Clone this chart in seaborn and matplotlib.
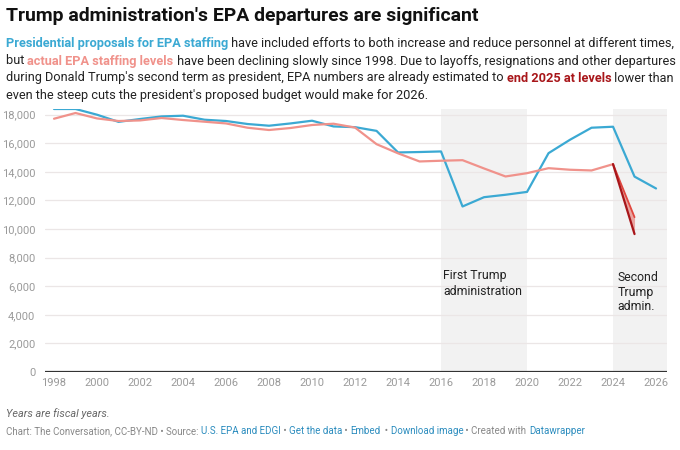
import numpy as np
import pandas as pd
import matplotlib
matplotlib.use("Agg")
import matplotlib.pyplot as plt
import seaborn as sns

# Data
years = list(range(1998, 2027))
proposed = [18400, 18400, 18000, 17500, 17700, 17880, 17930, 17650, 17560, 17350,
            17230, 17390, 17580, 17180, 17130, 16870, 15360, 15390, 15430, 11580,
            12230, 12400, 12600, 15310, 16250, 17090, 17160, 13670, 12840]
actual_years = list(range(1998, 2025))
actual = [17720, 18120, 17740, 17560, 17600, 17770, 17630, 17510, 17390, 17090,
          16930, 17070, 17280, 17370, 17100, 15940, 15300, 14730, 14780, 14820,
          14240, 13680, 13910, 14260, 14150, 14100, 14540]
est_years = [2024, 2025]
est_high = [14540, 10830]
est_low = [14540, 9650]
yticks = list(range(0, 18001, 2000))
xticks = list(range(1998, 2027, 2))

BLUE = "#3ba9d3"
SALMON = "#f0928b"
RED = "#e0473f"
DARKRED = "#a8161a"
TEXT = "#222222"
GREY = "#9a9a9a"

sns.set_theme(style="white")
plt.rcParams['font.family'] = ['Roboto', 'DejaVu Sans']

fig = plt.figure(figsize=(6.8, 4.5), dpi=100)
W, H = 680, 450
ax = fig.add_axes([45 / W, 1 - 372 / H, 622 / W, 263 / H])

# shaded administrations
ax.axvspan(2016, 2020, color="#f2f2f2", lw=0, zorder=0)
ax.axvspan(2024, 2026.51, color="#f2f2f2", lw=0, zorder=0)

for v in yticks[1:]:
    ax.axhline(v, color="#ebe6e6", lw=0.9, zorder=1)
ax.axhline(0, color="#333333", lw=1.6, zorder=3)

df_p = pd.DataFrame({"year": years, "value": proposed})
df_a = pd.DataFrame({"year": actual_years, "value": actual})
sns.lineplot(data=df_p, x="year", y="value", color=BLUE, lw=1.6, ax=ax, zorder=4)
sns.lineplot(data=df_a, x="year", y="value", color=SALMON, lw=1.6, ax=ax, zorder=4)
ax.fill_between(est_years, est_low, est_high, color=RED, alpha=0.45, lw=0, zorder=4)
sns.lineplot(x=est_years, y=est_high, color=RED, lw=1.3, ax=ax, zorder=5)
sns.lineplot(x=est_years, y=est_low, color=DARKRED, lw=1.6, ax=ax, zorder=5)

ax.set_xlim(1997.58, 2026.51)
ax.set_ylim(0, 18400)
ax.set_xticks(xticks)
ax.set_yticks(yticks)
ax.set_xticklabels([str(x) for x in xticks], color=GREY, fontsize=8)
ax.set_yticklabels([f"{v:,}" for v in yticks], color=GREY, fontsize=8)
ax.tick_params(axis="both", length=0, pad=4)
ax.tick_params(axis="y", pad=7)
ax.set_xlabel("")
ax.set_ylabel("")
for s in ax.spines.values():
    s.set_visible(False)

ax.text(2016.1, 7200, "First Trump\nadministration", fontsize=8.8, color=TEXT,
        va="top", ha="left", linespacing=1.25, zorder=6)
ax.text(2024.2, 7050, "Second\nTrump\nadmin.", fontsize=8.8, color=TEXT,
        va="top", ha="left", linespacing=1.15, zorder=6)

# title and subtitle
fig.text(6 / W, 1 - 16 / H, "Trump administration's EPA departures are significant",
         fontsize=13.95, fontweight="bold", color="#111111", va="center", ha="left")

renderer = fig.canvas.get_renderer()


def rich_line(y_px, parts, size=9.15):
    x = 6 / W
    for txt, color, weight in parts:
        t = fig.text(x, 1 - y_px / H, txt, color=color, fontweight=weight,
                     fontsize=size, va="center", ha="left")
        bb = t.get_window_extent(renderer)
        x += bb.width / W


n = "normal"
rich_line(44, [("Presidential proposals for EPA staffing", BLUE, "bold"),
               (" have included efforts to both increase and reduce personnel at different times,", TEXT, n)])
rich_line(61, [("but ", TEXT, n), ("actual EPA staffing levels", SALMON, "bold"),
               (" have been declining slowly since 1998. Due to layoffs, resignations and other departures", TEXT, n)])
rich_line(78, [("during Donald Trump's second term as president, EPA numbers are already estimated to ", TEXT, n),
               ("end 2025 at levels", DARKRED, "bold"), (" lower than", TEXT, n)])
rich_line(95, [("even the steep cuts the president's proposed budget would make for 2026.", TEXT, n)])

# footer
fig.text(6 / W, 1 - 414 / H, "Years are fiscal years.", fontsize=7.8, style="italic",
         color="#666666", va="center", ha="left")
LINK = "#2b8cbe"
FOOT = "#888888"
x = 6 / W
for txt, color in [("Chart: The Conversation, CC-BY-ND \u2022 Source: ", FOOT), ("U.S. EPA and EDGI", LINK),
                   (" \u2022 ", FOOT), ("Get the data", LINK), (" \u2022 ", FOOT), ("Embed", LINK),
                   ("  \u2022 ", FOOT), ("Download image", LINK), (" \u2022 Created with ", FOOT),
                   ("Datawrapper", LINK)]:
    t = fig.text(x, 1 - 431 / H, txt, fontsize=7.0, color=color, va="center", ha="left")
    x += t.get_window_extent(renderer).width / W

fig.savefig("out.png", dpi=100)
